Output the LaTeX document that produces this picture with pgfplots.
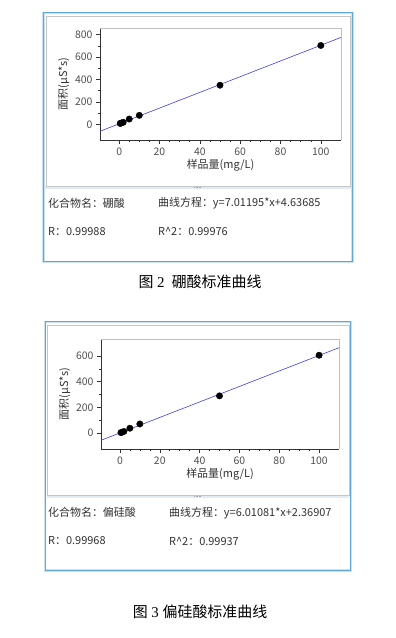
\documentclass[border=0pt]{standalone}
\usepackage{pgfplots}
\pgfplotsset{compat=1.18}
\usepackage{fontspec}
\setmainfont{Noto Sans CJK SC}
\newfontfamily\capserif{Liberation Serif}
\definecolor{panelblue}{RGB}{96,168,214}
\definecolor{panelblue2}{RGB}{200,226,242}
\definecolor{sepcol}{RGB}{226,236,246}
\definecolor{txt}{RGB}{50,50,50}
\definecolor{ticktxt}{RGB}{80,80,80}
\definecolor{fitblue}{RGB}{60,60,240}
\pgfplotsset{
  calstyle/.style={
    scale only axis,
    anchor=south west,
    axis x line*=bottom,
    axis y line*=left,
    axis line style={black!80, line width=0.6pt},
    tick align=outside,
    major tick length=4bp,
    minor tick length=2bp,
    every tick/.style={black!80, line width=0.5pt},
    minor x tick num=3,
    minor y tick num=1,
    xtick={0,20,40,60,80,100},
    xmin=-9.5, xmax=110,
    /pgf/number format/assume math mode=true,
    tick label style={font=\fontsize{10.5}{12}\selectfont, text=ticktxt},
    label style={font=\fontsize{11}{12}\selectfont, text=txt},
    xlabel={样品量(mg/L)},
    ylabel={面积(μS*s)},
    xlabel style={yshift=3bp},
    ylabel style={yshift=-1bp},
    clip=false,
  }
}
\begin{document}
\begin{tikzpicture}
\path[fill=white] (0bp,0bp) rectangle (396bp,638bp);
% ---------- panel 1 ----------
\draw[panelblue2, line width=2.4bp] (43.5bp,376bp) rectangle (352.5bp,625bp);
\draw[panelblue, line width=1bp] (43.5bp,376bp) rectangle (352.5bp,625bp);
\fill[sepcol] (45bp,449bp) rectangle (351bp,452bp);
\draw[gray!45, line width=0.6bp] (46bp,452bp) rectangle (350bp,622bp);
\foreach \i in {0,...,4}{\fill[gray!70] (194bp+\i*1.5bp,450.2bp) rectangle ++(0.9bp,0.9bp);}
\begin{axis}[calstyle,
  at={(100bp,498bp)}, width=241bp, height=112bp,
  ymin=-140, ymax=860, ytick={0,200,400,600,800}]
\draw[gray!50, line width=0.6pt] (rel axis cs:0,1) -- (rel axis cs:1,1) -- (rel axis cs:1,0);
\addplot[fitblue, line width=0.6pt] coordinates {(-9.5,-61.98) (110,775.95)};
\addplot[only marks, mark=*, mark size=3.2bp, black] coordinates {
  (0.5,8) (1,11) (2,18) (5,47) (10,80) (50,349) (100,704)};
\end{axis}
\begin{scope}[every node/.style={anchor=west, text=txt, font=\fontsize{11}{12}\selectfont, inner sep=0pt}]
\node at (48bp,435bp) {化合物名：硼酸};
\node at (158bp,435bp) {曲线方程：y=7.01195*x+4.63685};
\node at (48bp,406.3bp) {R：0.99988};
\node at (158bp,406.3bp) {R\^{}2：0.99976};
\end{scope}
\node[text=black, font=\fontsize{15}{17}\selectfont] at (200bp,356bp) {图{\capserif\ 2\ }\ 硼酸标准曲线};
% ---------- panel 2 ----------
\draw[panelblue2, line width=2.4bp] (45bp,67.3bp) rectangle (350.7bp,316bp);
\draw[panelblue, line width=1bp] (45bp,67.3bp) rectangle (350.7bp,316bp);
\fill[sepcol] (46.5bp,140bp) rectangle (349.2bp,143bp);
\draw[gray!45, line width=0.6bp] (47bp,143bp) rectangle (349bp,313bp);
\foreach \i in {0,...,4}{\fill[gray!70] (194bp+\i*1.5bp,141.2bp) rectangle ++(0.9bp,0.9bp);}
\begin{axis}[calstyle,
  at={(101bp,189bp)}, width=238bp, height=110bp,
  ymin=-122, ymax=731, ytick={0,200,400,600}]
\draw[gray!50, line width=0.6pt] (rel axis cs:0,1) -- (rel axis cs:1,1) -- (rel axis cs:1,0);
\addplot[fitblue, line width=0.6pt] coordinates {(-9.5,-54.73) (110,663.56)};
\addplot[only marks, mark=*, mark size=3.2bp, black] coordinates {
  (0.5,5) (1,8) (2,14) (5,39) (10,72) (50,290) (100,605)};
\end{axis}
\begin{scope}[every node/.style={anchor=west, text=txt, font=\fontsize{11}{12}\selectfont, inner sep=0pt}]
\node at (48bp,125.3bp) {化合物名：偏硅酸};
\node at (169bp,125.3bp) {曲线方程：y=6.01081*x+2.36907};
\node at (48bp,97bp) {R：0.99968};
\node at (169bp,97bp) {R\^{}2：0.99937};
\end{scope}
\node[text=black, font=\fontsize{15}{17}\selectfont] at (200bp,26bp) {图{\capserif\ 3\ }偏硅酸标准曲线};
\end{tikzpicture}
\end{document}
